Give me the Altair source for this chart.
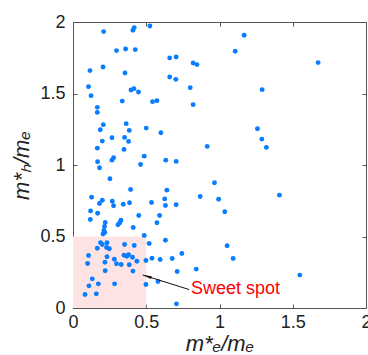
import altair as alt
import pandas as pd

# electron effective mass m*_e/m_e
me = [0.209, 0.409, 0.418, 0.525, 0.297, 0.359, 0.425, 0.660, 0.116, 0.205,
      0.355, 0.660, 0.106, 0.123, 0.396, 0.416, 0.447, 0.336, 0.543, 0.573,
      0.166, 0.166, 0.207, 0.186, 0.363, 0.384, 0.500, 0.600, 0.200, 0.266,
      0.352, 0.379, 0.166, 0.348, 0.168, 0.181, 0.266, 0.277, 0.486, 0.461,
      0.633, 0.252, 0.393, 0.641, 0.127, 0.200, 0.181, 0.268, 0.277, 0.343,
      0.386, 0.536, 0.626, 0.631, 0.120, 0.168, 0.449, 0.591, 0.118, 0.327,
      0.320, 0.307, 0.220, 0.215, 0.573, 0.411, 0.211, 0.217, 0.205, 0.486,
      0.520, 0.631, 0.188, 0.200, 0.232, 0.166, 0.229, 0.248, 0.352, 0.418,
      0.106, 0.232, 0.348, 0.379, 0.368, 0.406, 0.436, 0.282, 0.297, 0.329,
      0.218, 0.100, 0.384, 0.498, 0.539, 0.595, 0.220, 0.409, 0.132, 0.173,
      0.109, 0.284, 0.082, 0.159, 0.498, 0.580, 1.168, 1.107, 0.704, 0.820,
      0.846, 0.702, 0.800, 1.291, 0.820, 1.259, 1.289, 1.320, 0.916, 0.704,
      0.966, 0.868, 0.994, 0.704, 1.036, 1.052, 0.743, 0.677, 1.093, 0.711,
      0.841, 0.706, 1.673, 1.409, 1.548]

# hole effective mass m*_h/m_e
mh = [1.933, 1.942, 1.961, 1.972, 1.800, 1.811, 1.807, 1.749, 1.660, 1.685,
      1.643, 1.615, 1.548, 1.485, 1.524, 1.534, 1.510, 1.447, 1.443, 1.450,
      1.403, 1.368, 1.282, 1.247, 1.289, 1.242, 1.258, 1.226, 1.167, 1.191,
      1.193, 1.165, 1.118, 1.109, 1.023, 0.981, 1.034, 1.051, 1.062, 1.004,
      1.034, 0.904, 0.829, 0.824, 0.775, 0.754, 0.731, 0.747, 0.715, 0.726,
      0.736, 0.738, 0.763, 0.717, 0.679, 0.663, 0.647, 0.647, 0.619, 0.614,
      0.596, 0.582, 0.598, 0.570, 0.596, 0.563, 0.542, 0.528, 0.518, 0.507,
      0.451, 0.474, 0.456, 0.444, 0.456, 0.418, 0.423, 0.414, 0.444, 0.437,
      0.367, 0.358, 0.369, 0.372, 0.362, 0.355, 0.327, 0.341, 0.309, 0.304,
      0.320, 0.311, 0.302, 0.332, 0.348, 0.339, 0.260, 0.258, 0.204, 0.169,
      0.155, 0.169, 0.094, 0.099, 0.164, 0.185, 1.907, 1.795, 1.755, 1.713,
      1.702, 1.599, 1.541, 1.527, 1.422, 1.254, 1.181, 1.123, 1.130, 1.025,
      0.876, 0.780, 0.761, 0.722, 0.673, 0.435, 0.381, 0.346, 0.346, 0.255,
      0.272, 0.029, 1.716, 0.789, 0.230]

tick_values = [0, 0.5, 1, 1.5, 2]

# sweet spot region
spot_x = [0.0]
spot_x2 = [0.5]
spot_y = [0.0]
spot_y2 = [0.5]

# annotation
label_text = ["Sweet spot"]
label_x = [0.805]
label_y = [0.10]
arrow_tail_x = [0.793]
arrow_tail_y = [0.129]
arrow_head_x = [0.476]
arrow_head_y = [0.231]

FONT = "Liberation Sans"
GRAY = "#555555"

xs = alt.Scale(domain=[0, 2], nice=False, zero=False)
ys = alt.Scale(domain=[0, 2], nice=False, zero=False)

pts = pd.DataFrame({"me": me, "mh": mh})
spot = pd.DataFrame({"x": spot_x, "x2": spot_x2, "y": spot_y, "y2": spot_y2})
ann = pd.DataFrame({"t": label_text, "x": label_x, "y": label_y})
arr = pd.DataFrame({"x": arrow_tail_x, "y": arrow_tail_y,
                    "x2": arrow_head_x, "y2": arrow_head_y})
head = pd.DataFrame({"x": arrow_head_x, "y": arrow_head_y})

inner = dict(values=tick_values, tickSize=4, offset=-4, domain=False,
             tickColor=GRAY, tickWidth=1, grid=False, labelFlush=False)

label_style = dict(labelFont=FONT, labelFontSize=18, labelColor="#222222",
                   labelExpr="datum.value == 0 ? '0' : format(datum.value, '.2~f')",
                   titleFont=FONT, titleFontSize=22, titleFontStyle="italic",
                   titleFontWeight="normal", titleColor="#222222")

rect = alt.Chart(spot).mark_rect(color="#fde3e3").encode(
    x=alt.X("x:Q", scale=xs,
            axis=alt.Axis(orient="top", labels=False, title=None, **inner)),
    x2="x2:Q",
    y=alt.Y("y:Q", scale=ys,
            axis=alt.Axis(orient="right", labels=False, title=None, **inner)),
    y2="y2:Q",
)

points = alt.Chart(pts).mark_circle(size=24, color="#0a7dff", opacity=1).encode(
    x=alt.X("me:Q", scale=xs,
            axis=alt.Axis(orient="bottom", title="m*ₑ/mₑ", labelPadding=5,
                          titlePadding=2, **label_style, **inner)),
    y=alt.Y("mh:Q", scale=ys,
            axis=alt.Axis(orient="left", title="m*ₕ/mₑ", labelPadding=8,
                          titlePadding=6, **label_style, **inner)),
)

line = alt.Chart(arr).mark_rule(color="#111111", strokeWidth=1).encode(
    x=alt.X("x:Q", scale=xs, axis=None), y=alt.Y("y:Q", scale=ys, axis=None),
    x2="x2:Q", y2="y2:Q",
)

arrowhead = alt.Chart(head).mark_point(
    shape="M0,0L-0.33,2L0.33,2Z", filled=True, size=81, angle=287,
    color="#111111", opacity=1, strokeWidth=0,
).encode(
    x=alt.X("x:Q", scale=xs, axis=None), y=alt.Y("y:Q", scale=ys, axis=None),
)

text = alt.Chart(ann).mark_text(
    color="#ff0000", font=FONT, fontSize=18, align="left", baseline="alphabetic",
).encode(
    x=alt.X("x:Q", scale=xs, axis=None), y=alt.Y("y:Q", scale=ys, axis=None),
    text="t:N",
)

chart = alt.layer(rect, points, line, arrowhead, text).resolve_axis(
    x="independent", y="independent"
).properties(
    width=293, height=286,
    autosize=alt.AutoSizeParams(type="none"),
    padding={"left": 73, "top": 22, "right": 2, "bottom": 47},
).configure_view(
    stroke=GRAY, strokeWidth=1
)

chart.save("out.html", embed_options={"renderer": "svg", "actions": False})
